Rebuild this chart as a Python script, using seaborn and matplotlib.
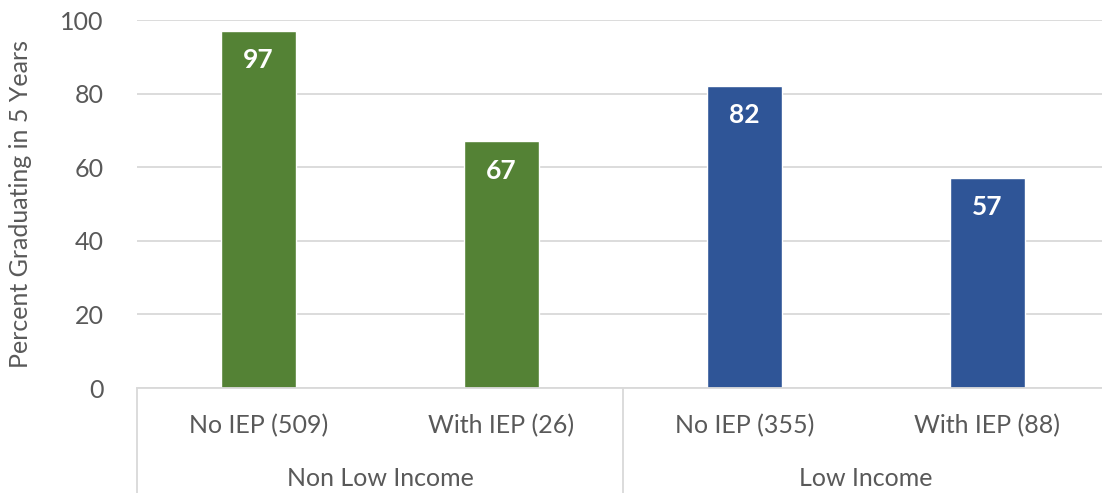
import pandas as pd
import seaborn as sns
import matplotlib.pyplot as plt
import matplotlib.transforms as mtransforms

categories = ["No IEP (509)", "With IEP (26)", "No IEP (355)", "With IEP (88)"]
groups = ["Non Low Income", "Non Low Income", "Low Income", "Low Income"]
values = [97, 67, 82, 57]
group_names = ["Non Low Income", "Low Income"]
colors = {"Non Low Income": "#548235", "Low Income": "#2F5597"}

df = pd.DataFrame({"category": categories, "group": groups, "value": values})

sns.set_style("white")
plt.rcParams["font.family"] = ["Lato", "DejaVu Sans"]

fig = plt.figure(figsize=(11.02, 4.93), dpi=100)
ax = fig.add_axes([137 / 1102, 105 / 493, 965 / 1102, 368 / 493])

sns.barplot(df, x="category", y="value", hue="group", palette=colors,
            dodge=False, width=0.31, legend=False, ax=ax, saturation=1)

ax.set_ylim(0, 100)
ax.set_xlim(-0.5, -0.5 + 965 / 243)
ax.set_yticks(range(0, 101, 20))
ax.yaxis.grid(True, color="#d9d9d9", linewidth=1.3)
ax.set_axisbelow(True)
for s in ["top", "right", "left"]:
    ax.spines[s].set_visible(False)
ax.spines["bottom"].set_color("#d9d9d9")
ax.spines["bottom"].set_linewidth(1.3)
ax.tick_params(axis="both", length=0, labelsize=18, labelcolor="#595959")
ax.tick_params(axis="x", pad=19)
ax.tick_params(axis="y", pad=24)
ax.set_xlabel("")
ax.set_ylabel("Percent Graduating in 5 Years", fontsize=18, color="#595959", labelpad=20)

for p, v in zip(ax.patches, values):
    ax.annotate(f"{v}", (p.get_x() + p.get_width() / 2, p.get_height()),
                xytext=(0, -21), textcoords="offset points", ha="center", va="center",
                color="white", fontsize=19, fontweight="bold")

# group labels and separators below the axis
trans = mtransforms.blended_transform_factory(ax.transData, ax.transAxes)
for i, name in enumerate(group_names):
    ax.text(2 * i + 0.5, -0.245, name, transform=trans, ha="center", va="center",
            fontsize=18, color="#595959")
for xs in [-0.5, 1.5, 3.5]:
    ax.plot([xs, xs], [0, -0.29], transform=trans, color="#d9d9d9", linewidth=1.3, clip_on=False)

fig.savefig("out.png", dpi=100)
